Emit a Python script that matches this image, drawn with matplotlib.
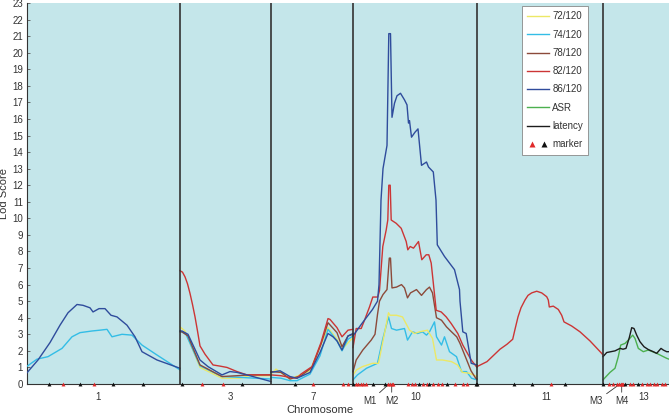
import matplotlib
matplotlib.use('Agg')
import matplotlib.pyplot as plt
from matplotlib.lines import Line2D
from matplotlib.legend_handler import HandlerTuple

plt.rcParams['font.family'] = ['Liberation Sans', 'DejaVu Sans']

# chromosomes and their plotted widths (cM-like units)
chroms = ['1', '3', '7', '10', '11', '13']
chrom_len = [153, 91, 82, 124, 126, 66]
label_pos = [71, 50, 42, 62.7, 69, 41]      # where the number sits in each chromosome

# --- LOD curves, positions are relative to the chromosome start ---
c1_pos_86 = [0, 11, 23, 33, 41, 50, 56, 63, 66, 72, 78, 84, 90, 100, 108, 115, 130, 153]
c1_lod_86 = [0.68, 1.45, 2.5, 3.55, 4.3, 4.8, 4.75, 4.6, 4.35, 4.55, 4.55, 4.15, 4.05, 3.55, 2.85, 1.95, 1.45, 0.95]
c1_pos_74 = [0, 10, 21, 35, 45, 53, 65, 73, 80, 85, 95, 105, 115, 130, 153]
c1_lod_74 = [1.07, 1.5, 1.65, 2.15, 2.85, 3.1, 3.2, 3.25, 3.3, 2.85, 3.0, 2.95, 2.35, 1.75, 0.85]

c3_pos_82 = [0, 2.5, 5, 7.5, 10, 12.5, 15, 17.5, 20, 25, 33, 40, 47, 57, 67, 91]
c3_lod_82 = [6.84, 6.75, 6.47, 6.05, 5.47, 4.8, 4.06, 3.2, 2.3, 1.8, 1.15, 1.08, 1.0, 0.75, 0.55, 0.55]
c3_pos_86 = [0, 2, 8, 20, 28, 42, 50, 57, 70, 88, 91]
c3_lod_86 = [3.2, 3.2, 3.0, 1.45, 1.05, 0.55, 0.75, 0.7, 0.5, 0.2, 0.15]
c3_pos_78 = [0, 2, 8, 20, 42, 57, 70, 91]
c3_lod_78 = [3.15, 3.15, 2.9, 1.15, 0.45, 0.5, 0.55, 0.55]
c3_pos_72 = [0, 5, 20, 42, 60, 70, 91]
c3_lod_72 = [3.45, 3.2, 1.0, 0.35, 0.35, 0.5, 0.5]
c3_pos_74 = [0, 6, 20, 42, 60, 91]
c3_lod_74 = [3.2, 3.0, 1.1, 0.45, 0.4, 0.3]

c7_pos_82 = [0, 10, 19, 26, 30, 41, 50, 57, 59, 66, 71, 77, 82]
c7_lod_82 = [0.55, 0.5, 0.4, 0.35, 0.6, 1.05, 2.5, 3.95, 3.9, 3.4, 2.85, 3.25, 3.3]
c7_pos_78 = [0, 10, 19, 30, 41, 50, 57, 66, 71, 77, 82]
c7_lod_78 = [0.75, 0.7, 0.3, 0.5, 1.0, 2.4, 3.7, 3.1, 2.25, 2.9, 3.0]
c7_pos_86 = [0, 9, 19, 26, 39, 49, 57, 62, 66, 71, 77, 82]
c7_lod_86 = [0.7, 0.8, 0.45, 0.35, 0.7, 1.9, 3.05, 2.85, 2.6, 2.05, 2.9, 3.05]
c7_pos_74 = [0, 10, 19, 26, 39, 49, 57, 66, 71, 77, 82]
c7_lod_74 = [0.4, 0.35, 0.2, 0.2, 0.6, 1.7, 3.3, 2.6, 2.0, 2.7, 2.9]
c7_pos_72 = [0, 5, 19, 39, 57, 66, 71, 82]
c7_lod_72 = [0.6, 0.9, 0.3, 0.8, 3.4, 2.7, 2.1, 2.8]

c10_pos_86 = [0, 6.5, 9.5, 19.5, 24.5, 26, 28, 30, 34, 35.8, 37.5, 39, 41.5, 44, 47.5, 51.5, 54, 55.5,
              56.5, 58.5, 62, 65, 68.5, 73.5, 75.5, 80.3, 83, 84.3, 91.5, 96.5, 101.5, 106.5, 107,
              109.8, 113.2, 118.2, 124]
c10_lod_86 = [2.9, 3.45, 3.7, 4.5, 5.0, 6.0, 11.1, 13.0, 14.4, 21.15, 21.15, 16.1, 16.95, 17.4, 17.55,
              17.15, 16.85, 15.75, 15.9, 14.9, 15.2, 15.4, 13.2, 13.4, 13.1, 12.8, 11.1, 8.4, 7.7, 7.3,
              6.9, 5.7, 5.0, 3.15, 3.05, 1.25, 1.15]
c10_pos_82 = [0, 3.2, 8.2, 11.5, 16.5, 19.8, 24.8, 26.5, 29.8, 33.2, 34.8, 35.8, 37.2, 38.2, 43.2, 48.2,
              53.2, 54.8, 57.2, 60.5, 65.5, 68.8, 73.2, 75.8, 78.2, 83.2, 88.2, 93.2, 98.2, 104.8,
              109.8, 118.2, 124]
c10_lod_82 = [2.2, 3.35, 3.35, 3.85, 4.65, 5.25, 5.25, 5.65, 8.3, 9.3, 9.9, 12.0, 12.0, 9.9, 9.7, 9.4,
              8.6, 8.1, 8.3, 8.2, 8.6, 7.5, 7.8, 7.8, 7.3, 4.45, 4.35, 4.05, 3.65, 3.05, 2.35, 1.45, 1.0]
c10_pos_78 = [0, 3.2, 9.8, 18.2, 22, 24.5, 26.5, 30, 34, 36.3, 37.5, 39, 43.5, 48.5, 51.5, 54.5, 57.5,
              63.5, 68.5, 73.5, 76.5, 79.5, 83.5, 88.5, 93.5, 98.5, 103.7, 107, 113.7, 118, 122.7, 124]
c10_lod_78 = [0.74, 1.45, 2.05, 2.65, 3.0, 4.2, 5.0, 5.4, 5.7, 7.6, 7.6, 5.8, 5.85, 6.0, 5.8, 5.2, 5.5,
              5.7, 5.35, 5.7, 5.85, 5.5, 4.0, 3.85, 3.45, 3.15, 2.85, 2.45, 1.45, 0.8, 0.35, 0.3]
c10_pos_72 = [0, 3.5, 9.5, 19.5, 25.5, 31.5, 35.5, 37, 43.5, 49.5, 56.5, 61.5, 66.5, 74.5, 79.5, 83.5,
              89.5, 98.5, 104.5, 109.5, 116.5, 124]
c10_lod_72 = [0.55, 0.85, 1.05, 1.25, 1.25, 3.05, 4.3, 4.15, 4.15, 4.05, 3.25, 3.05, 3.15, 3.25, 2.75,
              1.45, 1.45, 1.35, 1.15, 0.7, 0.65, 0.45]
c10_pos_74 = [0, 4.5, 13.5, 24.5, 29.5, 35.5, 38.5, 43.5, 51.5, 54.5, 59.5, 64.5, 69.5, 73.5, 76.5,
              81.5, 83.5, 88.5, 91.5, 96.5, 103.5, 108.5, 113.5, 118.5, 124]
c10_lod_74 = [0.25, 0.55, 0.95, 1.25, 2.65, 4.05, 3.35, 3.25, 3.35, 2.65, 3.15, 3.05, 3.15, 2.95, 3.15,
              3.75, 2.85, 2.35, 2.85, 1.95, 1.65, 0.75, 0.75, 0.35, 0.25]

c11_pos_82 = [0, 10, 23, 30, 35.7, 38, 41, 44, 48, 51, 54.7, 59.7, 64.7, 69.7, 71.3, 72.3, 76.3, 81.3,
              84.7, 87, 94.7, 103, 113, 124.7, 126]
c11_lod_82 = [1.05, 1.35, 2.1, 2.4, 2.7, 3.3, 4.05, 4.6, 5.07, 5.35, 5.5, 5.6, 5.5, 5.27, 5.07, 4.65,
              4.7, 4.5, 4.15, 3.75, 3.5, 3.15, 2.6, 1.85, 1.75]

c13_pos_lat = [0, 3.7, 12, 17, 20, 23, 26.3, 28.7, 31, 33.7, 37, 41, 45.3, 50.3, 53.7, 58, 60.3, 63.7, 66]
c13_lod_lat = [1.65, 1.9, 2.0, 2.15, 2.1, 2.15, 2.8, 3.4, 3.35, 2.95, 2.55, 2.25, 2.08, 1.95, 1.85,
               2.15, 2.05, 1.95, 1.95]
c13_pos_asr = [0, 7, 12, 15.3, 17.7, 22, 25.3, 29.7, 32, 35.3, 40.3, 45.3, 53.7, 58.7, 63.7, 66]
c13_lod_asr = [0.25, 0.7, 0.95, 1.65, 2.35, 2.45, 2.65, 2.95, 2.75, 2.15, 1.95, 2.05, 1.85, 1.7, 1.55, 1.5]

# markers per chromosome (relative positions)
mk_red = {'1': [35.7, 67.3], '3': [21.7, 42.7], '7': [42, 72, 77],
          '10': [3, 5.3, 7.7, 10.3, 13, 35.3, 37, 38.7, 40.3, 55.3, 58.7, 62, 70.3, 73.7, 79.7, 85.3,
                 88.7, 102, 110.3, 113.7],
          '11': [73.7],
          '13': [6.3, 10.3, 13.7, 16.3, 17.5, 18.7, 20.3, 27, 30.3, 38.7, 43.7, 47, 51, 54.3, 58.7, 62]}
mk_black = {'1': [22.3, 53, 86.3, 116.3], '3': [1.7, 61.7], '7': [24],
            '10': [0, 20.3, 32, 66.3, 76.3, 93.7, 122.7],
            '11': [0, 37.3, 54.7, 88], '13': [0, 22, 35.3]}

# named markers: (chromosome, marker position, label position)
m_names = ['M1', 'M2', 'M3', 'M4']
m_chrom = ['10', '10', '13', '13']
m_pos = [36, 38.7, 17, 18.7]
m_text = [17, 38.7, -7, 18.7]

colors = {'72/120': '#ece866', '74/120': '#33bde6', '78/120': '#8c4a3a', '82/120': '#cc3535',
          '86/120': '#2f4c9c', 'ASR': '#4cb04f', 'latency': '#1c1c1c'}

curves = [
    ('74/120', '1', c1_pos_74, c1_lod_74), ('86/120', '1', c1_pos_86, c1_lod_86),
    ('72/120', '3', c3_pos_72, c3_lod_72), ('74/120', '3', c3_pos_74, c3_lod_74),
    ('78/120', '3', c3_pos_78, c3_lod_78), ('82/120', '3', c3_pos_82, c3_lod_82),
    ('86/120', '3', c3_pos_86, c3_lod_86),
    ('72/120', '7', c7_pos_72, c7_lod_72), ('74/120', '7', c7_pos_74, c7_lod_74),
    ('78/120', '7', c7_pos_78, c7_lod_78), ('82/120', '7', c7_pos_82, c7_lod_82),
    ('86/120', '7', c7_pos_86, c7_lod_86),
    ('74/120', '10', c10_pos_74, c10_lod_74), ('72/120', '10', c10_pos_72, c10_lod_72),
    ('78/120', '10', c10_pos_78, c10_lod_78), ('82/120', '10', c10_pos_82, c10_lod_82),
    ('86/120', '10', c10_pos_86, c10_lod_86),
    ('82/120', '11', c11_pos_82, c11_lod_82),
    ('ASR', '13', c13_pos_asr, c13_lod_asr), ('latency', '13', c13_pos_lat, c13_lod_lat),
]

start = {}
acc = 0
for c, L in zip(chroms, chrom_len):
    start[c] = acc
    acc += L
total = acc

fig = plt.figure(figsize=(6.69, 4.18), dpi=100)
ax = fig.add_axes([27 / 669, 34 / 418, 642 / 669, 381 / 418])
ax.set_facecolor('#c4e6ea')

for name, c, pos, lod in curves:
    ax.plot([start[c] + p for p in pos], lod, color=colors[name], lw=1.0, zorder=3)

# chromosome separators
for c in chroms[1:]:
    ax.axvline(start[c], color='#333333', lw=1.2, zorder=4)

# markers on the x axis
for c in chroms:
    ax.plot([start[c] + p for p in mk_red[c]], [0] * len(mk_red[c]), ls='', marker='^',
            ms=2.8, color='#e02a2a', mec='none', clip_on=False, zorder=5)
    ax.plot([start[c] + p for p in mk_black[c]], [0] * len(mk_black[c]), ls='', marker='^',
            ms=2.8, color='#111111', mec='none', clip_on=False, zorder=5)

for nm, c, p, t in zip(m_names, m_chrom, m_pos, m_text):
    ax.annotate(nm, xy=(start[c] + p, 0), xytext=(start[c] + t, -1.05), ha='center', va='center',
                fontsize=7, color='#333333', annotation_clip=False,
                arrowprops=dict(arrowstyle='-', lw=0.6, color='#333333', shrinkA=1, shrinkB=0))

ax.set_xlim(0, total)
ax.set_ylim(0, 23)
ax.set_yticks(range(24))
ax.set_xticks([start[c] + lp for c, lp in zip(chroms, label_pos)])
ax.set_xticklabels(chroms)
ax.tick_params(axis='x', length=0, pad=6, labelsize=7, labelcolor='#333333')
ax.tick_params(axis='y', direction='in', length=2, width=0.6, color='#555555', pad=3,
               labelsize=7, labelcolor='#333333')
for s in ['top', 'right']:
    ax.spines[s].set_visible(False)
for s in ['left', 'bottom']:
    ax.spines[s].set_color('#333333')
    ax.spines[s].set_linewidth(0.8)

ax.set_xlabel('Chromosome', fontsize=8, color='#333333')
ax.xaxis.set_label_coords((320 - 27) / 642, -0.055)
ax.set_ylabel('Lod Score', fontsize=8, color='#333333')
ax.yaxis.set_label_coords(-0.0275, 0.5)

handles = [Line2D([], [], color=colors[k], lw=1.0) for k in colors]
labels = list(colors)
mk_handle = (Line2D([], [], ls='', marker='^', ms=5, color='#e02a2a', mec='none'),
             Line2D([], [], ls='', marker='^', ms=5, color='#111111', mec='none'))
handles.append(mk_handle)
labels.append('marker')
leg = ax.legend(handles, labels, loc='upper left', bbox_to_anchor=(0.7706, 0.992),
                borderaxespad=0, fontsize=7, handlelength=2.3, handletextpad=0.3,
                labelspacing=0.85, borderpad=0.55, fancybox=False, framealpha=1,
                handler_map={tuple: HandlerTuple(ndivide=None, pad=0.2)})
leg.get_frame().set_edgecolor('#888888')
leg.get_frame().set_linewidth(0.6)
for t in leg.get_texts():
    t.set_color('#333333')
leg.set_zorder(6)

fig.savefig('out.png', dpi=100)
